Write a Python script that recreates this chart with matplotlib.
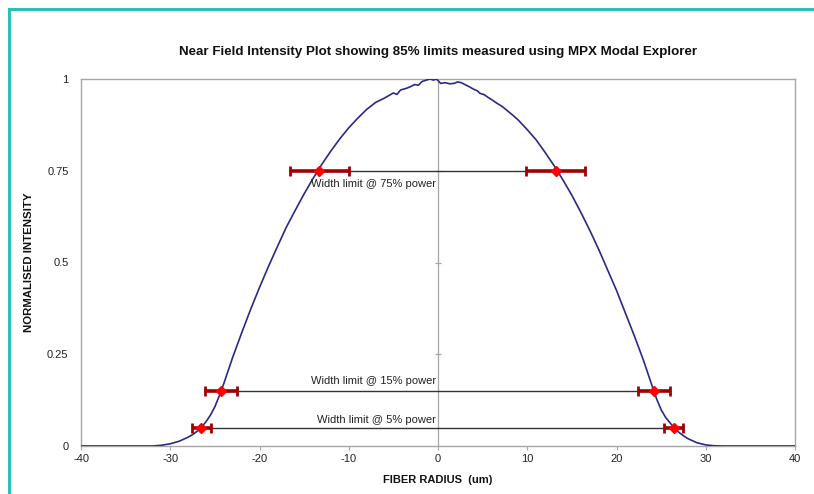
import matplotlib
matplotlib.use("Agg")
import matplotlib.pyplot as plt
from matplotlib.patches import Rectangle

plt.rcParams['font.family'] = ['Liberation Sans', 'DejaVu Sans']

# ---- data ----
radius = [-40, -33, -32, -31, -30, -29, -28, -27.5, -27, -26.5, -26, -25.5, -25, -24.5, -24,
          -23, -22, -21, -20, -19, -18, -17, -16, -15, -14, -13, -12, -11, -10, -9, -8, -7,
          -6, -5.5, -5, -4.6, -4.2, -3.5, -3.1, -2.6, -2.2, -1.8, -1.3, -0.9, -0.5, -0.2, 0,
          0.3, 0.8, 1.3, 1.8, 2.2, 2.6, 3.0, 3.5, 4.0, 4.4, 4.7, 5.2, 5.6, 6.0, 6.6, 7.2, 7.8,
          8.4, 9, 10, 11, 12, 13, 14, 15, 16, 17, 18, 19, 20, 21, 22, 23, 24, 24.5, 25, 25.5,
          26, 26.4, 27, 27.5, 28, 29, 30, 31, 32, 40]
intensity = [0, 0, 0, 0.002, 0.006, 0.013, 0.024, 0.031, 0.04, 0.051, 0.066, 0.084, 0.107, 0.137, 0.170,
             0.242, 0.308, 0.372, 0.432, 0.489, 0.543, 0.596, 0.642, 0.687, 0.729, 0.768, 0.804, 0.837, 0.867, 0.893, 0.917, 0.936,
             0.948, 0.955, 0.962, 0.958, 0.970, 0.975, 0.979, 0.985, 0.983, 0.993, 0.997, 1.0, 0.997, 1.0, 0.996,
             0.988, 0.990, 0.987, 0.988, 0.992, 0.990, 0.985, 0.979, 0.972, 0.968, 0.961, 0.957, 0.950, 0.944, 0.934, 0.925, 0.913,
             0.901, 0.888, 0.862, 0.834, 0.800, 0.764, 0.725, 0.683, 0.637, 0.588, 0.536, 0.480, 0.424, 0.362, 0.300, 0.235, 0.163, 0.128, 0.099, 0.078,
             0.063, 0.051, 0.037, 0.028, 0.020, 0.009, 0.003, 0.0005, 0, 0]

levels = [0.75, 0.15, 0.05]
left_limits = [-13.3, -24.3, -26.5]
right_limits = [13.2, 24.2, 26.4]
limit_errors = [3.3, 1.8, 1.05]
level_labels = ["Width limit @ 75% power", "Width limit @ 15% power", "Width limit @ 5% power"]
label_y = [0.714, 0.177, 0.071]

x_ticks = [-40, -30, -20, -10, 0, 10, 20, 30, 40]
y_ticks = [0, 0.25, 0.5, 0.75, 1]
y_tick_labels = ["0", "0.25", "0.5", "0.75", "1"]

title = "Near Field Intensity Plot showing 85% limits measured using MPX Modal Explorer"
xlabel = "FIBER RADIUS  (um)"
ylabel = "NORMALISED INTENSITY"

# ---- figure ----
W, H = 814, 494
fig = plt.figure(figsize=(W / 100, H / 100), dpi=100)
ax = fig.add_axes([81 / W, 1 - 446 / H, (795 - 81) / W, (446 - 79) / H])

# teal frame (left and top visible)
fig.patches.append(Rectangle((9 / W, -0.2), 1.2, 1 - 9 / H + 0.2, transform=fig.transFigure,
                             fill=False, edgecolor='#2cc0b4', linewidth=2.2, clip_on=False))

gray = '#a6a6a6'
ax.set_xlim(-40, 40)
ax.set_ylim(0, 1)
for s in ['left', 'top', 'right', 'bottom']:
    ax.spines[s].set_color(gray)
    ax.spines[s].set_linewidth(1.0)

# vertical axis at x=0
ax.axvline(0, color=gray, linewidth=0.9, zorder=1)
ax.plot([0] * 3, y_ticks[1:4], linestyle='none', marker='_', markersize=5, color=gray,
        markeredgewidth=0.9, zorder=1)

ax.set_xticks(x_ticks)
ax.set_xticklabels([str(v) for v in x_ticks], fontsize=8, color='#222222')
ax.set_yticks(y_ticks)
ax.set_yticklabels(y_tick_labels, fontsize=8, color='#222222')
ax.tick_params(axis='x', length=3, color=gray, pad=3)
ax.tick_params(axis='y', length=0, pad=9)

# curve
ax.plot(radius, intensity, color='#2a2a85', linewidth=1.2, zorder=3)

# limit lines and error bars
for lv, xl, xr, err, lab, ly in zip(levels, left_limits, right_limits, limit_errors, level_labels, label_y):
    ax.plot([xl, xr], [lv, lv], color='#333333', linewidth=1.0, zorder=2)
    ax.errorbar([xl, xr], [lv, lv], xerr=[err, err], fmt='none', ecolor='#a00000',
                elinewidth=2.6, capsize=3.5, capthick=2.0, zorder=4)
    ax.plot([xl, xr], [lv, lv], linestyle='none', marker='D', markersize=5.5,
            color='#ff0000', markeredgecolor='#ff0000', zorder=5)
    ax.text(-0.2, ly, lab, ha='right', va='center', fontsize=8, color='#222222', zorder=6)

ax.set_title(title, fontsize=9.6, fontweight='bold', pad=17, color='#111111')
ax.set_xlabel(xlabel, fontsize=8, fontweight='bold', labelpad=8, color='#111111')
ax.set_ylabel(ylabel, fontsize=8.2, fontweight='bold', labelpad=9, color='#111111')

fig.savefig("out.png", dpi=100)
